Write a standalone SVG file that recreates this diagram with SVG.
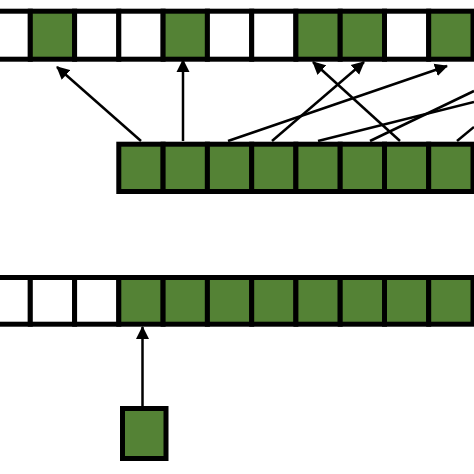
<svg xmlns="http://www.w3.org/2000/svg" width="474" height="474" viewBox="0 0 474 474">
<style>
.g{fill:#548235;stroke:#000;stroke-width:5}
.w{fill:#fff;stroke:#000;stroke-width:5}
.c{stroke:#000;stroke-width:2.5;fill:none;marker-end:url(#ah)}
.p{stroke:#000;stroke-width:2.5;fill:none}
</style>
<defs>
<marker id="ah" markerUnits="userSpaceOnUse" markerWidth="13" markerHeight="14" refX="12" refY="7" orient="auto">
<path d="M0,0.5 L13,7 L0,13.5 z" fill="#000"/>
</marker>
</defs>
<rect width="474" height="474" fill="#fff"/>
<g id="top-row">
<rect class="w" x="-14" y="11.2" width="44.3" height="48"/>
<rect class="g" x="30.3" y="11.2" width="44.3" height="48"/>
<rect class="w" x="74.6" y="11.2" width="44.2" height="48"/>
<rect class="w" x="118.8" y="11.2" width="44.3" height="48"/>
<rect class="g" x="163.1" y="11.2" width="44.3" height="48"/>
<rect class="w" x="207.4" y="11.2" width="44.3" height="48"/>
<rect class="w" x="251.7" y="11.2" width="44.2" height="48"/>
<rect class="g" x="295.9" y="11.2" width="44.3" height="48"/>
<rect class="g" x="340.2" y="11.2" width="44.3" height="48"/>
<rect class="w" x="384.5" y="11.2" width="44.2" height="48"/>
<rect class="g" x="428.7" y="11.2" width="44.3" height="48"/>
</g>
<g id="middle-row">
<rect class="g" x="118.8" y="144.2" width="44.3" height="47.3"/>
<rect class="g" x="163.1" y="144.2" width="44.3" height="47.3"/>
<rect class="g" x="207.4" y="144.2" width="44.3" height="47.3"/>
<rect class="g" x="251.7" y="144.2" width="44.2" height="47.3"/>
<rect class="g" x="295.9" y="144.2" width="44.3" height="47.3"/>
<rect class="g" x="340.2" y="144.2" width="44.3" height="47.3"/>
<rect class="g" x="384.5" y="144.2" width="44.2" height="47.3"/>
<rect class="g" x="428.7" y="144.2" width="44.3" height="47.3"/>
</g>
<g id="bottom-row">
<rect class="w" x="-14" y="277.5" width="44.3" height="46.7"/>
<rect class="w" x="30.3" y="277.5" width="44.3" height="46.7"/>
<rect class="w" x="74.6" y="277.5" width="44.2" height="46.7"/>
<rect class="g" x="118.8" y="277.5" width="44.3" height="46.7"/>
<rect class="g" x="163.1" y="277.5" width="44.3" height="46.7"/>
<rect class="g" x="207.4" y="277.5" width="44.3" height="46.7"/>
<rect class="g" x="251.7" y="277.5" width="44.2" height="46.7"/>
<rect class="g" x="295.9" y="277.5" width="44.3" height="46.7"/>
<rect class="g" x="340.2" y="277.5" width="44.3" height="46.7"/>
<rect class="g" x="384.5" y="277.5" width="44.2" height="46.7"/>
<rect class="g" x="428.7" y="277.5" width="44.3" height="46.7"/>
</g>
<g id="single">
<rect class="g" x="122.5" y="408.5" width="43.5" height="50"/>
</g>
<g id="connectors">
<line class="c" x1="141" y1="141" x2="57" y2="67"/>
<line class="c" x1="183" y1="141" x2="183" y2="60"/>
<line class="c" x1="400" y1="141" x2="313" y2="62"/>
<line class="c" x1="272" y1="141" x2="364" y2="62"/>
<line class="c" x1="228" y1="141" x2="447" y2="66"/>
<line class="p" x1="318" y1="141" x2="474" y2="102"/>
<line class="p" x1="370" y1="141" x2="474" y2="91"/>
<line class="p" x1="457" y1="141" x2="474" y2="127"/>
<line class="c" x1="142.5" y1="406" x2="142.5" y2="327"/>
</g>
</svg>
